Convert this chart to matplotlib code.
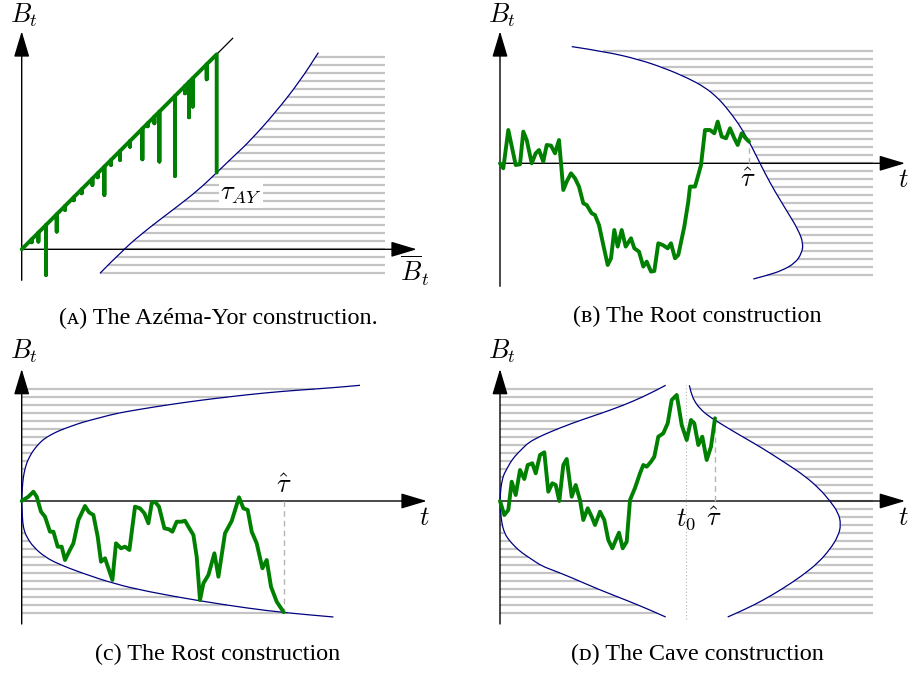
import numpy as np
import matplotlib
matplotlib.use("Agg")
import matplotlib.pyplot as plt
from matplotlib.path import Path
from matplotlib.patches import PathPatch

plt.rcParams["mathtext.fontset"] = "cm"

GREEN = "#008000"
BLUE = "#000080"
GRAY = "#c4c4c4"
DASH = "#b4b4b4"

# horizontal hatching levels (one every 0.8 units)
levels_ay = 0.8 * np.arange(-3, 25)
levels = 0.8 * np.arange(-14, 15)

# (a) Azema-Yor: running max and the drop below it at each excursion
ay_max = [1.0, 1.67, 2.43, 3.5, 4.33, 5.2, 6.0, 7.07, 7.6, 8.27, 8.93, 9.83, 10.83,
          12.07, 12.6, 13.27, 13.77, 15.33, 16.33, 16.73, 17.1, 18.5, 19.5]
ay_drop = [0.3, 0.9, 5.0, 1.73, 0.4, 0.3, 0.4, 0.63, 0.4, 2.83, 0.5, 0.9, 0.57,
           3.07, 0.3, 0.67, 5.0, 8.0, 0.73, 3.53, 2.83, 1.5, 11.83]
ay_curve_x = [7.83, 10.17, 12.67, 15.33, 17.67, 19.5, 21.2, 22.83, 25.5, 27.83, 29.67]
ay_curve_y = [-2.4, 0.0, 2.1, 4.1, 5.93, 7.67, 9.3, 10.83, 13.83, 16.83, 19.67]

# (b) Root
root_t = [0, 0.33, 0.83, 1.57, 2.0, 2.33, 2.67, 3.17, 3.57, 3.9, 4.33, 4.67, 5.1, 5.5,
          5.9, 6.33, 6.67, 7.1, 7.5, 7.9, 8.33, 8.67, 9.17, 9.5, 9.9, 10.33, 10.77,
          11.1, 11.43, 11.77, 12.17, 12.57, 13.1, 13.43, 13.9, 14.33, 14.67, 15.1,
          15.43, 15.83, 16.27, 16.77, 17.1, 17.5, 17.83, 18.43, 18.83, 19.0, 19.5,
          19.83, 20.1, 20.5, 21.0, 21.43, 21.77, 22.17, 22.6, 23.0, 23.43, 23.77,
          24.17, 24.57, 24.9]
root_b = [0, -0.5, 3.33, -0.17, -0.1, 3.17, 2.33, 0, 1.0, 1.33, 0.17, 1.83, 1.77, 1.0,
          2.33, -2.67, -1.83, -1.0, -1.5, -2.33, -4.0, -4.17, -5.0, -5.17, -6.17, -8.17,
          -10.17, -9.5, -6.67, -8.33, -6.67, -8.33, -7.5, -8.5, -8.83, -10.33, -9.83,
          -10.83, -10.77, -8.0, -8.17, -8.5, -8.0, -9.5, -9.17, -6.33, -3.83, -2.33,
          -2.33, -1.17, -0.17, 3.33, 3.33, 3.0, 4.17, 2.67, 2.5, 3.5, 2.5, 1.83, 3.0,
          2.5, 2.17]
root_curve_x = [7.17, 10.5, 13.83, 16.5, 18.83, 20.5, 21.83, 22.83, 23.83, 24.83, 25.67,
                26.5, 27.5, 28.83, 29.83, 30.33, 30.17, 29.5, 28.17, 26.83, 25.33]
root_curve_y = [11.67, 11.17, 10.4, 9.5, 8.5, 7.6, 6.5, 5.33, 4.0, 2.33, 0.67, -1.0,
                -2.83, -5.0, -6.67, -8.0, -9.0, -10.0, -10.73, -11.17, -11.57]

# (c) Rost
rost_t = [0, 0.67, 1.17, 1.5, 1.93, 2.33, 2.83, 3.17, 3.6, 4.0, 4.33, 4.73, 5.17, 5.67,
          6.33, 6.73, 7.17, 7.6, 7.93, 8.33, 9.07, 9.43, 9.93, 10.33, 10.77, 11.33,
          11.83, 12.27, 12.67, 13.0, 13.33, 13.73, 14.27, 14.73, 15.07, 15.5, 16.0,
          16.33, 16.67, 17.17, 17.5, 17.83, 18.17, 18.67, 19.27, 19.67, 20.33, 21.0,
          21.73, 22.17, 22.6, 23.0, 23.5, 24.07, 24.5, 24.93, 25.5, 26.2]
rost_b = [0, 0.43, 0.93, 0.43, -1.07, -1.57, -3.07, -3.07, -4.57, -4.57, -5.9, -5.07,
          -4.23, -1.9, -0.5, -1.13, -1.4, -3.57, -6.07, -5.73, -7.9, -4.23, -4.73, -4.57,
          -4.9, -0.57, -0.73, -1.23, -2.23, -0.23, -0.07, -0.57, -2.73, -2.83, -3.07,
          -2.07, -2.07, -1.97, -2.57, -3.4, -5.57, -9.9, -8.23, -7.4, -5.23, -7.57,
          -3.23, -2.0, 0.37, -0.73, -0.9, -3.07, -4.23, -6.73, -5.9, -8.57, -10.07, -11.12]
rost_up_x = [0, 0.03, 0.1, 0.23, 0.5, 0.83, 1.17, 1.67, 2.17, 3.0, 3.83, 5.0, 6.17,
             7.83, 9.5, 11.83, 14.5, 17.83, 21.17, 24.5, 27.83, 31.17, 33.83]
rost_up_y = [0, 0.83, 1.83, 2.83, 3.83, 4.5, 5.07, 5.67, 6.17, 6.67, 7.07, 7.5, 7.9,
             8.33, 8.77, 9.17, 9.6, 10.07, 10.47, 10.83, 11.1, 11.33, 11.57]
rost_lo_x = [0, 0.03, 0.1, 0.23, 0.5, 1.17, 2.33, 3.67, 6.0, 9.33, 12.67, 17.67,
             22.67, 26.33, 31.17]
rost_lo_y = [0, -0.83, -2.17, -2.9, -3.6, -4.6, -5.6, -6.3, -7.2, -8.3, -9.07, -9.97,
             -10.73, -11.17, -11.6]

# (d) Cave
cave_t = [0, 0.43, 0.83, 1.17, 1.57, 2.0, 2.43, 2.77, 3.23, 3.57, 4.0, 4.43, 4.83, 5.23,
          5.57, 5.93, 6.33, 6.67, 7.17, 7.57, 8.0, 8.33, 8.77, 9.17, 9.5, 10.0, 10.43,
          10.83, 11.23, 11.57, 11.9, 12.27, 12.67, 13.0, 13.5, 14.0, 14.33, 14.67, 15.1,
          15.43, 15.83, 16.33, 16.77, 17.17, 17.67, 17.9, 18.17, 18.67, 19.1, 19.43,
          19.83, 20.23, 20.67, 21.1, 21.5]
cave_b = [0, -1.4, -0.9, 1.93, 0.6, 3.1, 2.2, 3.6, 3.77, 2.77, 4.6, 4.87, 0.93, 1.77,
          1.6, 0, 3.6, 4.2, 0.43, 1.6, 0.1, -1.9, -0.73, -1.57, -2.4, -1.07, -1.9, -3.9,
          -4.73, -3.93, -3.17, -4.73, -4.07, 0.1, 1.3, 2.77, 3.6, 3.43, 3.93, 4.43, 6.43,
          6.77, 7.77, 10.1, 10.6, 9.27, 7.6, 6.1, 8.1, 7.77, 5.6, 6.43, 4.1, 5.43, 8.27]
cave_up_x = [0, 0.05, 0.17, 0.35, 0.67, 1.0, 1.5, 2.17, 2.83, 3.83, 4.83, 7.17, 9.83,
             12.17, 14.5, 16.57]
cave_up_y = [0, 1.0, 1.83, 2.6, 3.17, 3.8, 4.5, 5.17, 5.83, 6.37, 6.83, 7.77, 8.67,
             9.5, 10.5, 11.57]
cave_lo_x = [0, 0.07, 0.17, 0.43, 0.83, 1.5, 2.17, 3.17, 4.17, 5.5, 7.17, 9.83, 12.83,
             14.83, 16.57]
cave_lo_y = [0, -1.17, -2.17, -3.17, -3.83, -4.57, -5.17, -5.83, -6.5, -7.0, -7.67,
             -8.83, -10.0, -10.83, -11.6]
cave_right_x = [18.93, 19.1, 19.43, 20.0, 20.83, 22.17, 23.83, 26.17, 28.5, 30.5, 32.0,
                33.0, 33.83, 34.1, 33.83, 33.0, 31.83, 30.17, 28.17, 26.17, 24.5, 22.77]
cave_right_y = [11.57, 10.83, 10.0, 9.23, 8.5, 7.67, 6.67, 5.33, 3.83, 2.5, 1.17, 0,
                -1.17, -2.33, -3.5, -4.83, -6.17, -7.5, -8.83, -10.0, -10.83, -11.6]
cave_t0 = 18.6

W, H = 910, 673
fig = plt.figure(figsize=(W / 100, H / 100), dpi=100)


def panel(ox, oy, xlim, ylim):
    # one data unit is 10 px, (ox, oy) is the pixel position of the origin
    left = ox + 10 * xlim[0]
    top = oy - 10 * ylim[1]
    w = 10 * (xlim[1] - xlim[0])
    h = 10 * (ylim[1] - ylim[0])
    ax = fig.add_axes([left / W, 1 - (top + h) / H, w / W, h / H])
    ax.set_xlim(xlim)
    ax.set_ylim(ylim)
    ax.axis("off")
    return ax


def arrows(ax, x_tip, y_tip, y_bot):
    style = "-|>,head_length=0.8,head_width=0.24"
    kw = dict(arrowstyle=style, color="black", lw=1.0, shrinkA=0, shrinkB=0,
              mutation_scale=20)
    ax.annotate("", xy=(x_tip, 0), xytext=(0, 0), arrowprops=kw,
                annotation_clip=False, zorder=2)
    ax.annotate("", xy=(0, y_tip), xytext=(0, y_bot), arrowprops=kw,
                annotation_clip=False, zorder=2)


def green(ax, x, y):
    ax.plot(x, y, color=GREEN, lw=2.8, solid_joinstyle="round",
            solid_capstyle="round", zorder=4, clip_on=False)


def blue(ax, x, y):
    # smooth stroke: the read points act as quadratic control points
    p = np.column_stack([x, y])
    verts = [p[0]]
    codes = [Path.MOVETO]
    for i in range(1, len(p) - 1):
        verts += [p[i], (p[i] + p[i + 1]) / 2]
        codes += [Path.CURVE3, Path.CURVE3]
    verts.append(p[-1])
    codes.append(Path.LINETO)
    ax.add_patch(PathPatch(Path(verts, codes), fill=False, edgecolor=BLUE, lw=0.9,
                           zorder=3, clip_on=False))


def hatch(ax, ys, x0, x1):
    ys, x0, x1 = np.asarray(ys), np.asarray(x0), np.asarray(x1)
    keep = (x1 - x0) > 0.05
    ax.hlines(ys[keep], x0[keep], x1[keep], colors=GRAY, lw=1.6, zorder=1)


LBL = 19

# ---------------- (a) Azema-Yor ----------------
ax = panel(21.7, 249.3, (-2, 43), (-4, 24.9))
hatch(ax, levels_ay, np.interp(levels_ay, ay_curve_y, ay_curve_x),
      np.full(len(levels_ay), 36.3))
blue(ax, ay_curve_x, ay_curve_y)
ax.plot([0, 21.1], [0, 21.1], color="black", lw=0.9, zorder=2)
arrows(ax, 39.5, 21.8, -3.1)
px, py = [0.0], [0.0]
for i, (m, d) in enumerate(zip(ay_max, ay_drop)):
    px += [m, m]
    py += [m, m - d]
    if i < len(ay_max) - 1:
        px.append(m)
        py.append(m)
green(ax, px, py)
ax.text(21.9, 5.6, r"$\tau_{AY}$", fontsize=LBL, ha="center", va="center", zorder=5,
        bbox=dict(facecolor="white", edgecolor="none", pad=1))
ax.text(0.2, 23.4, r"$B_t$", fontsize=LBL, ha="center", va="center")
ax.text(39.3, -2.2, r"$\overline{B}_t$", fontsize=LBL, ha="center", va="center")

# ---------------- (b) Root ----------------
ax = panel(500, 163.3, (-4, 41), (-13, 16.3))
rc_x = np.array(root_curve_x)[::-1]
rc_y = np.array(root_curve_y)[::-1]
hatch(ax, levels, np.interp(levels, rc_y, rc_x), np.full(len(levels), 37.3))
blue(ax, root_curve_x, root_curve_y)
arrows(ax, 40.5, 13.2, -12.3)
ax.plot([root_t[-1], root_t[-1]], [0, root_b[-1]], color=DASH, lw=1.0,
        ls=(0, (4, 3)), zorder=2)
green(ax, root_t, root_b)
ax.text(0.2, 14.8, r"$B_t$", fontsize=LBL, ha="center", va="center")
ax.text(40.3, -1.7, r"$t$", fontsize=LBL, ha="center", va="center")
ax.text(24.8, -1.7, r"$\hat{\tau}$", fontsize=LBL, ha="center", va="center")

# ---------------- (c) Rost ----------------
ax = panel(21.7, 501, (-2, 43), (-13, 16.5))
right = np.where(levels >= 0, np.interp(levels, rost_up_y, rost_up_x),
                 np.interp(-levels, -np.array(rost_lo_y), rost_lo_x))
hatch(ax, levels, np.zeros(len(levels)), right)
blue(ax, rost_up_x, rost_up_y)
blue(ax, rost_lo_x, rost_lo_y)
arrows(ax, 40.5, 13.2, -12.3)
ax.plot([rost_t[-1], rost_t[-1]], [0, rost_b[-1]], color=DASH, lw=1.0,
        ls=(0, (4, 3)), zorder=2)
green(ax, rost_t, rost_b)
ax.text(0.2, 15.0, r"$B_t$", fontsize=LBL, ha="center", va="center")
ax.text(40.3, -1.7, r"$t$", fontsize=LBL, ha="center", va="center")
ax.text(rost_t[-1], 1.5, r"$\hat{\tau}$", fontsize=LBL, ha="center", va="center")

# ---------------- (d) Cave ----------------
ax = panel(500, 501, (-4, 41), (-13, 16.5))
left_end = np.where(levels >= 0, np.interp(levels, cave_up_y, cave_up_x),
                    np.interp(-levels, -np.array(cave_lo_y), cave_lo_x))
hatch(ax, levels, np.zeros(len(levels)), left_end)
rr_x = np.array(cave_right_x)[::-1]
rr_y = np.array(cave_right_y)[::-1]
hatch(ax, levels, np.interp(levels, rr_y, rr_x), np.full(len(levels), 37.3))
blue(ax, cave_up_x, cave_up_y)
blue(ax, cave_lo_x, cave_lo_y)
blue(ax, cave_right_x, cave_right_y)
arrows(ax, 40.5, 13.2, -12.3)
ax.plot([cave_t0, cave_t0], [-11.8, 11.6], color=DASH, lw=0.8, ls=(0, (1, 2)), zorder=2)
ax.plot([cave_t[-1], cave_t[-1]], [0, cave_b[-1]], color=DASH, lw=1.0,
        ls=(0, (4, 3)), zorder=2)
green(ax, cave_t, cave_b)
ax.text(0.2, 15.0, r"$B_t$", fontsize=LBL, ha="center", va="center")
ax.text(40.3, -1.7, r"$t$", fontsize=LBL, ha="center", va="center")
ax.text(18.6, -1.8, r"$t_0$", fontsize=LBL, ha="center", va="center")
ax.text(21.4, -1.8, r"$\hat{\tau}$", fontsize=LBL, ha="center", va="center")

# captions
cap = dict(fontsize=17.4, ha="center", va="center",
           family=["Liberation Serif", "DejaVu Serif", "DejaVu Sans"])
fig.text(218 / W, 1 - 318 / H, "(\u1d00) The Azéma-Yor construction.", **cap)
fig.text(697 / W, 1 - 316 / H, "(\u0299) The Root construction", **cap)
fig.text(218 / W, 1 - 654 / H, "(c) The Rost construction", **cap)
fig.text(697 / W, 1 - 654 / H, "(\u1d05) The Cave construction", **cap)

fig.savefig("out.png", dpi=100)
